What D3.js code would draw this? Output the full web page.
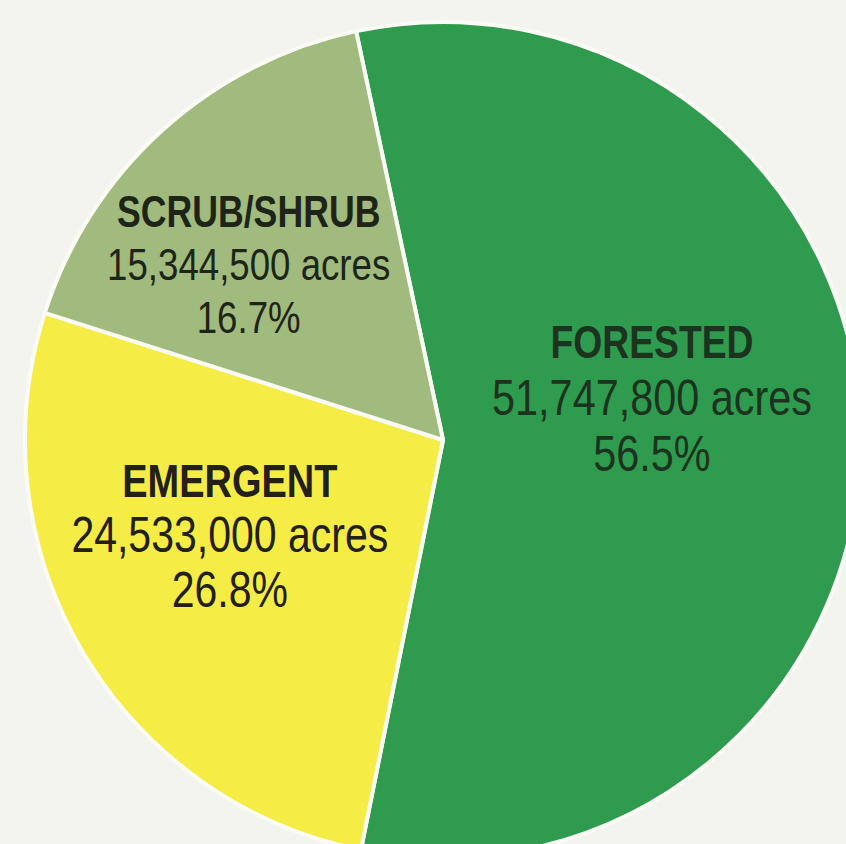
<!DOCTYPE html>
<html>
<head>
<meta charset="utf-8">
<script src="https://cdn.jsdelivr.net/npm/d3@7"></script>
<style>
  html, body { margin: 0; padding: 0; background: #f4f4ef; overflow: hidden; }
  text { font-family: "Liberation Sans", Arial, sans-serif; }
</style>
</head>
<body>
<div class="display"></div>
<script>
const categories = ['FORESTED', 'EMERGENT', 'SCRUB/SHRUB'];
const acres = [51747800, 24533000, 15344500];
const percents = [56.5, 26.8, 16.7];
const colors = ['#2f9b4e', '#f6ec46', '#a0bb7d'];

const width = 846;
const height = 844;
const cx = 443;
const cy = 440;
const radius = 418;

// label layout (centroid of label arc + small nudge)
const labelRadius = 230;
const nudges = { 'FORESTED': [-21, -24], 'EMERGENT': [-15, -5], 'SCRUB/SHRUB': [-40, 11] };
const sizes = { 'FORESTED': 50.5, 'EMERGENT': 50, 'SCRUB/SHRUB': 44.7 };
const titleSizes = { 'FORESTED': 45.5, 'EMERGENT': 46.3, 'SCRUB/SHRUB': 43.5 };
const gaps = { 'FORESTED': 56.5, 'EMERGENT': 55, 'SCRUB/SHRUB': 53 };
const textColors = { 'FORESTED': '#1c3320', 'EMERGENT': '#222018', 'SCRUB/SHRUB': '#1e2418' };
const squeeze = 0.82;

const dataset = categories.map((c, i) => ({ name: c, acres: acres[i], pct: percents[i], color: colors[i] }));

const svg = d3.select('.display')
    .append('svg')
    .attr('width', width)
    .attr('height', height)
    .style('display', 'block')
    .style('background-color', '#f4f4ef');

const start = -12 * Math.PI / 180;
const pie = d3.pie()
    .sort(null)
    .value(d => d.acres)
    .startAngle(start)
    .endAngle(start + 2 * Math.PI);

const arc = d3.arc().innerRadius(0).outerRadius(radius);
const labelArc = d3.arc().innerRadius(labelRadius).outerRadius(labelRadius);

const g = svg.append('g').attr('transform', `translate(${cx}, ${cy})`);

const arcs = pie(dataset);

g.selectAll('path')
    .data(arcs)
    .enter()
    .append('path')
    .attr('d', arc)
    .attr('fill', d => d.data.color)
    .attr('stroke', '#fbfbf6')
    .attr('stroke-width', 4)
    .attr('stroke-linejoin', 'round');

const labels = g.selectAll('g.label')
    .data(arcs)
    .enter()
    .append('g')
    .attr('class', 'label')
    .attr('transform', d => {
        const [x, y] = labelArc.centroid(d);
        const [nx, ny] = nudges[d.data.name];
        return `translate(${x + nx}, ${y + ny}) scale(${squeeze}, 1)`;
    })
    .attr('text-anchor', 'middle')
    .attr('fill', d => textColors[d.data.name]);

const fmt = d3.format(',');

labels.append('text')
    .attr('y', d => -gaps[d.data.name])
    .attr('font-weight', 'bold')
    .attr('font-size', d => titleSizes[d.data.name])
    .text(d => d.data.name);

labels.append('text')
    .attr('y', 0)
    .attr('font-size', d => sizes[d.data.name])
    .text(d => `${fmt(d.data.acres)} acres`);

labels.append('text')
    .attr('y', d => gaps[d.data.name])
    .attr('font-size', d => sizes[d.data.name])
    .text(d => `${d.data.pct}%`);
</script>
</body>
</html>
